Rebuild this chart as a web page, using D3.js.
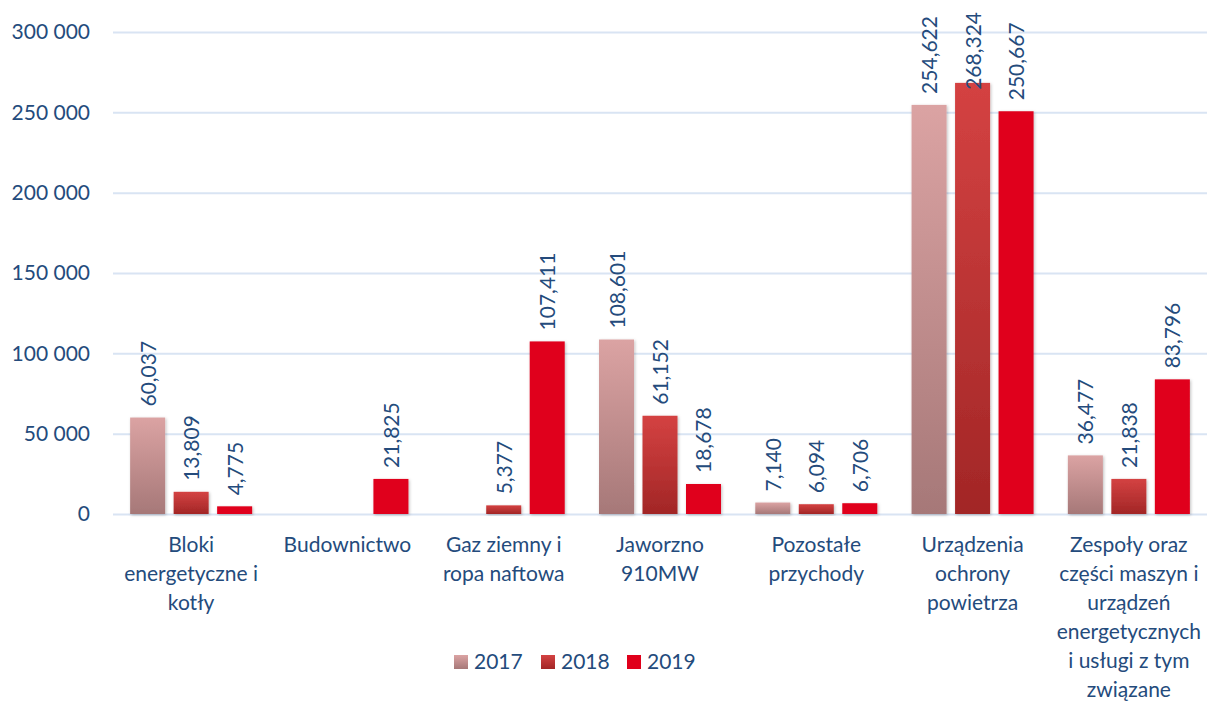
<!DOCTYPE html>
<html>
<head>
<meta charset="utf-8">
<script src="https://cdn.jsdelivr.net/npm/d3@7"></script>
<style>
  body { margin: 0; background: #fff; }
  svg { display: block; font-family: Lato, "Open Sans", sans-serif; }
</style>
</head>
<body>
<svg id="chart" width="1208" height="702"></svg>
<script>
const categories = ["Bloki energetyczne i kotły", "Budownictwo", "Gaz ziemny i ropa naftowa",
    "Jaworzno 910MW", "Pozostałe przychody", "Urządzenia ochrony powietrza",
    "Zespoły oraz części maszyn i urządzeń energetycznych i usługi z tym związane"];
const categoryLines = [
    ["Bloki", "energetyczne i", "kotły"],
    ["Budownictwo"],
    ["Gaz ziemny i", "ropa naftowa"],
    ["Jaworzno", "910MW"],
    ["Pozostałe", "przychody"],
    ["Urządzenia", "ochrony", "powietrza"],
    ["Zespoły oraz", "części maszyn i", "urządzeń", "energetycznych", "i usługi z tym", "związane"]
];
const years = ["2017", "2018", "2019"];
const values2017 = [60037, null, null, 108601, 7140, 254622, 36477];
const values2018 = [13809, null, 5377, 61152, 6094, 268324, 21838];
const values2019 = [4775, 21825, 107411, 18678, 6706, 250667, 83796];
const yTicks = [0, 50000, 100000, 150000, 200000, 250000, 300000];

const textColor = "#244b7c";
const gridColor = "#d9e4f3";
const fontSize = "21px";

const svg = d3.select("#chart");
const margin = {left: 113, right: 1207, top: 32, bottom: 514};

const x = d3.scaleBand().domain(categories).range([margin.left, margin.right]);
const xYear = d3.scaleBand().domain(years).range([0, x.bandwidth()])
    .paddingInner(0.195).paddingOuter(0.394);
const y = d3.scaleLinear().domain([0, 300000]).range([margin.bottom, margin.top]);

// gradients
const defs = svg.append("defs");
const grads = [
    ["g2017", "#dba3a3", "#a67878"],
    ["g2018", "#d44242", "#a22626"],
    ["g2019", "#e0001b", "#e0001b"]
];
grads.forEach(([id, top, bot]) => {
    const g = defs.append("linearGradient").attr("id", id)
        .attr("x1", 0).attr("y1", 0).attr("x2", 0).attr("y2", 1);
    g.append("stop").attr("offset", "0%").attr("stop-color", top);
    g.append("stop").attr("offset", "100%").attr("stop-color", bot);
});
const shadow = defs.append("filter").attr("id", "shadow")
    .attr("x", "-20%").attr("y", "-10%").attr("width", "140%").attr("height", "130%");
shadow.append("feDropShadow").attr("dx", 1).attr("dy", 1).attr("stdDeviation", 1.5)
    .attr("flood-color", "#000").attr("flood-opacity", 0.25);

// grid
const yAxis = d3.axisLeft(y).tickValues(yTicks).tickSize(-(margin.right - margin.left))
    .tickFormat(d => d3.format(",")(d).replace(/,/g, " "));
const gy = svg.append("g").attr("transform", `translate(${margin.left},0)`).call(yAxis);
gy.select(".domain").remove();
gy.selectAll(".tick line").attr("stroke", gridColor).attr("stroke-width", 2);
gy.selectAll(".tick text").attr("x", -23).attr("fill", textColor)
    .style("font-size", fontSize).style("font-family", "Lato, sans-serif");

// bars
const series = [values2017, values2018, values2019];
const barData = [];
series.forEach((vals, si) => {
    vals.forEach((v, ci) => {
        if (v !== null) barData.push({cat: categories[ci], year: years[si], value: v});
    });
});

const bars = svg.append("g");
bars.selectAll("rect").data(barData).enter().append("rect")
    .attr("x", d => x(d.cat) + xYear(d.year))
    .attr("y", d => y(d.value))
    .attr("width", xYear.bandwidth())
    .attr("height", d => y(0) - y(d.value))
    .attr("fill", d => `url(#g${d.year})`)
    .attr("filter", "url(#shadow)");

// value labels, pushed down into the bar when they would leave the chart
svg.append("g").selectAll("text").data(barData).enter().append("text")
    .attr("fill", textColor)
    .style("font-size", fontSize)
    .text(d => d3.format(",")(d.value))
    .attr("transform", function(d) {
        const cx = x(d.cat) + xYear(d.year) + xYear.bandwidth() / 2;
        const len = this.getComputedTextLength();
        let base = y(d.value) - 11;
        if (base - len < 12) base = 12 + len;
        return `translate(${cx + 8},${base}) rotate(-90)`;
    });

// category labels
const catG = svg.append("g");
categories.forEach((c, i) => {
    const cx = x(c) + x.bandwidth() / 2;
    const t = catG.append("text")
        .attr("text-anchor", "middle")
        .attr("fill", textColor)
        .style("font-size", fontSize);
    categoryLines[i].forEach((line, li) => {
        t.append("tspan").attr("x", cx).attr("y", 552 + li * 29).text(line);
    });
});

// legend
const legendX = [454, 541, 627];
const legend = svg.append("g");
years.forEach((yr, i) => {
    legend.append("rect").attr("x", legendX[i]).attr("y", 655)
        .attr("width", 14).attr("height", 14).attr("fill", `url(#g${yr})`);
    legend.append("text").attr("x", legendX[i] + 20).attr("y", 669)
        .attr("fill", textColor).style("font-size", fontSize).text(yr);
});
</script>
</body>
</html>
